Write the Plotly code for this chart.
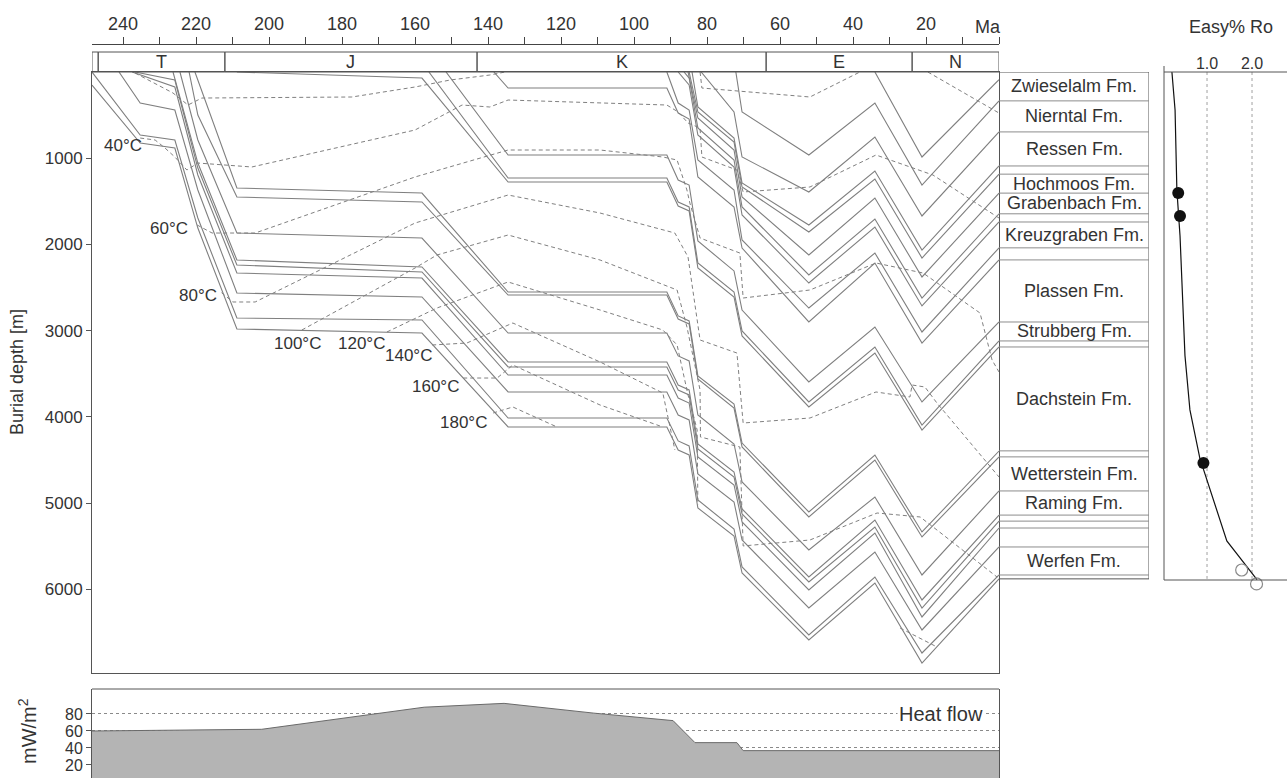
import plotly.graph_objects as go

# ------------------------------------------------------------------ data
PERIOD_BOUNDS = [248.5, 246.8, 212.1, 143.0, 63.8, 23.8, 0.0]
PERIOD_LABELS = ["", "T", "J", "K", "E", "N"]

TOP_TICKS = [240, 220, 200, 180, 160, 140, 120, 100, 80, 60, 40, 20]
TOP_TICK_TEXT = ["240", "220", "200", "180", "160", "140", "120", "100", "80", "60", "40", "20"]
DEPTH_TICKS = [1000, 2000, 3000, 4000, 5000, 6000]

# burial paths of horizons: (age Ma, depth m), deepest first
base = [(248.5, 151), (235.3, 824), (225.8, 882), (219.5, 1810), (208.8, 2981), (158.1, 3028),
        (134.5, 4118), (91.0, 4118), (87.9, 4385), (84.9, 4443), (82.5, 5058), (72.6, 5382),
        (70.4, 5812), (52.1, 6589), (34.0, 5928), (21.1, 6856), (0.0, 5880)]
h20 = [(248.5, 0), (235.3, 731), (225.8, 789), (219.5, 1694), (208.8, 2854), (158.1, 2877),
       (134.5, 4014), (91.0, 4014), (87.9, 4280), (84.9, 4338), (82.5, 4965), (72.6, 5301),
       (70.4, 5742), (52.1, 6531), (34.0, 5858), (21.1, 6740), (0.0, 5835)]
werfen_top = [(241.1, 0), (235.3, 360), (225.8, 441), (219.5, 1369), (208.8, 2564), (158.1, 2610),
              (134.5, 3712), (91.0, 3712), (87.9, 3979), (84.9, 4037), (82.5, 4663), (72.6, 4988),
              (70.4, 5429), (52.1, 6218), (34.0, 5568), (21.1, 6473), (0.0, 5510)]
h18 = [(237.5, 0), (225.8, 174), (219.5, 1195), (208.8, 2332), (158.1, 2390), (134.5, 3515),
       (91.0, 3515), (87.9, 3782), (84.9, 3840), (82.5, 4466), (72.6, 4791), (70.4, 5220),
       (52.1, 6009), (34.0, 5348), (21.1, 6322), (0.0, 5290)]
h17 = [(236.7, 0), (225.8, 93), (219.5, 1114), (208.8, 2239), (158.1, 2320), (134.5, 3422),
       (91.0, 3422), (87.9, 3689), (84.9, 3747), (82.5, 4373), (72.6, 4698), (70.4, 5127),
       (52.1, 5916), (34.0, 5278), (21.1, 6218), (0.0, 5210)]
h16 = [(226.3, 0), (219.5, 1056), (208.8, 2181), (158.1, 2262), (134.5, 3364), (91.0, 3364),
       (87.9, 3631), (84.9, 3689), (82.5, 4315), (72.6, 4640), (70.4, 5069), (52.1, 5858),
       (34.0, 5197), (21.1, 6125), (0.0, 5140)]
raming_top = [(224.4, 0), (219.5, 789), (208.8, 1868), (158.1, 1926), (134.5, 3028), (91.0, 3028),
              (87.9, 3294), (84.9, 3352), (82.5, 3979), (72.6, 4315), (70.4, 4756), (52.1, 5545),
              (34.0, 4930), (21.1, 5835), (0.0, 4860)]
wetterstein_top = [(221.9, 0), (219.5, 499), (208.8, 1450), (158.1, 1508), (134.5, 2587), (91.0, 2587),
                   (87.9, 2865), (84.9, 2923), (82.5, 3561), (72.6, 3898), (70.4, 4350), (52.1, 5162),
                   (34.0, 4501), (21.1, 5394), (0.0, 4466)]
h13 = [(220.3, 0), (219.5, 93), (208.8, 1346), (158.1, 1404), (134.5, 2552), (91.0, 2552),
       (87.9, 2830), (84.9, 2888), (82.5, 3526), (72.6, 3851), (70.4, 4304), (52.1, 5104),
       (34.0, 4443), (21.1, 5336), (0.0, 4397)]
dachstein_top = [(208.8, 0), (158.1, 70), (134.5, 1276), (91.0, 1276), (87.9, 1554), (84.9, 1612),
                 (82.5, 2274), (72.6, 2610), (70.4, 3062), (52.1, 3886), (34.0, 3260), (21.1, 4153),
                 (0.0, 3190)]
h11 = [(156.2, 0), (134.5, 1230), (91.0, 1230), (87.9, 1508), (84.9, 1566), (82.5, 2216),
       (72.6, 2552), (70.4, 3004), (52.1, 3828), (34.0, 3190), (21.1, 4095), (0.0, 3120)]
strubberg_top = [(151.5, 0), (134.5, 963), (91.0, 963), (87.9, 1253), (84.9, 1311), (82.5, 1960),
                 (72.6, 2308), (70.4, 2761), (52.1, 3596), (34.0, 2958), (21.1, 3828), (0.0, 2900)]
plassen_top = [(138.4, 0), (134.5, 186), (91.0, 186), (87.9, 476), (84.9, 545), (82.5, 1218),
               (72.6, 1566), (70.4, 2042), (52.1, 2900), (34.0, 2216), (21.1, 3144), (0.0, 2180)]
h8 = [(91.0, 0), (87.9, 360), (84.9, 441), (82.5, 1021), (72.6, 1369), (70.4, 1949),
      (52.1, 2738), (34.0, 2100), (21.1, 3016), (0.0, 2040)]
kreuzgraben_top = [(87.9, 0), (84.9, 151), (82.5, 731), (72.6, 1102), (70.4, 1659), (52.1, 2448),
                   (34.0, 1798), (21.1, 2714), (0.0, 1740)]
h6 = [(86.3, 0), (84.9, 70), (82.5, 650), (72.6, 1021), (70.4, 1566), (52.1, 2355),
      (34.0, 1705), (21.1, 2622), (0.0, 1645)]
grabenbach_top = [(85.2, 0), (82.5, 534), (72.6, 905), (70.4, 1450), (52.1, 2123), (34.0, 1462),
                  (21.1, 2378), (0.0, 1405)]
hochmoos_top = [(84.9, 0), (82.5, 464), (72.6, 812), (70.4, 1334), (52.1, 1856), (34.0, 1241),
                (21.1, 2158), (0.0, 1185)]
h3 = [(84.1, 0), (82.5, 406), (72.6, 766), (70.4, 1288), (52.1, 1775), (34.0, 1148),
      (21.1, 2065), (0.0, 1090)]
ressen_top = [(81.6, 0), (72.6, 464), (70.4, 986), (52.1, 1392), (34.0, 754), (21.1, 1670), (0.0, 695)]
nierntal_top = [(72.1, 0), (70.4, 464), (52.1, 963), (34.0, 360), (21.1, 1311), (0.0, 335)]
zwieselalm_top = [(34.0, 0), (21.1, 986), (0.0, 90)]

HORIZONS = [base, h20, werfen_top, h18, h17, h16, raming_top, wetterstein_top, h13,
            dachstein_top, h11, strubberg_top, plassen_top, h8, kreuzgraben_top, h6,
            grabenbach_top, hochmoos_top, h3, ressen_top, nierntal_top, zwieselalm_top]

# isotherms (age Ma, depth m)
iso_20a = [(236.7, 12), (226.3, 244), (222.2, 383), (218.4, 302), (177.3, 290), (160.0, 174),
           (150.4, 93), (139.5, 35), (135.3, 0)]
iso_20b = [(81.9, 0), (81.4, 186), (51.8, 290), (38.1, 0)]
iso_20c = [(19.5, 0), (0.0, 476)]
iso_40 = [(235.3, 766), (231.2, 789), (228.5, 882), (225.8, 986), (222.5, 1137), (219.5, 1056),
          (204.7, 1102), (160.0, 673), (147.1, 383), (139.5, 406), (134.5, 325), (109.3, 360),
          (91.0, 383), (87.9, 464), (85.2, 592), (81.9, 650), (81.4, 986), (71.8, 1137),
          (70.1, 1392), (51.8, 1334), (33.7, 963), (18.1, 1195), (0.0, 1694)]
iso_60 = [(219.7, 1775), (215.6, 1868), (203.8, 1868), (160.0, 1218), (134.5, 905), (109.3, 905),
          (92.1, 986), (88.2, 1021), (85.5, 1369), (84.7, 1520), (81.9, 1926), (71.0, 2100),
          (70.1, 2622), (51.8, 2529), (33.7, 2216), (20.8, 2332), (5.2, 2796), (1.9, 3341), (0.0, 3480)]
iso_80 = [(213.0, 2560), (209.9, 2668), (203.8, 2668), (160.0, 1752), (134.5, 1427), (109.3, 1636),
          (88.8, 1868), (85.2, 2146), (81.9, 3109), (71.8, 3260), (70.1, 4072), (51.8, 4014),
          (33.7, 3712), (24.4, 3770), (23.8, 3631), (20.3, 3654), (17.0, 3840), (0.0, 4698)]
iso_100 = [(191.0, 2993), (160.0, 2274), (154.0, 2123), (134.5, 1891), (109.3, 2181), (88.2, 2529),
           (85.5, 2958), (81.9, 3689), (81.8, 4234), (71.0, 4350), (70.1, 5498), (51.8, 5429),
           (33.4, 5116), (21.6, 5162), (17.0, 5313), (0.5, 5860)]
iso_120a = [(167.7, 3016), (154.0, 2738), (134.5, 2436), (109.3, 2761), (92.1, 2993), (88.2, 3167),
            (85.2, 3747), (82.7, 4153), (82.5, 5023)]
iso_120b = [(27.1, 6450), (17.0, 6670)]
iso_140 = [(155.3, 3167), (145.8, 3144), (133.2, 2912), (109.3, 3364), (92.1, 3724), (88.8, 4385)]
iso_160 = [(146.8, 3550), (137.5, 3550), (133.2, 3399), (109.3, 3863), (92.9, 4106)]
iso_180 = [(138.6, 3956), (133.2, 3886), (121.1, 4118)]
ISOTHERMS = [iso_20a, iso_20b, iso_20c, iso_40, iso_60, iso_80, iso_100, iso_120a, iso_120b,
             iso_140, iso_160, iso_180]

ISO_LABELS = ["40°C", "60°C", "80°C", "100°C", "120°C", "140°C", "160°C", "180°C"]
ISO_LABEL_AGE = [240.0, 227.4, 219.5, 192.3, 174.7, 161.9, 154.5, 146.8]
ISO_LABEL_DEPTH = [847, 1810, 2587, 3144, 3144, 3294, 3654, 4071]

# formation column (present-day depths, m)
COLUMN_BOUNDS = [0, 335, 695, 1090, 1185, 1405, 1645, 1740, 2040, 2180, 2900, 3120, 3190,
                 4395, 4465, 4860, 5140, 5210, 5290, 5510, 5835, 5880]
FM_NAMES = ["Zwieselalm Fm.", "Nierntal Fm.", "Ressen Fm.", "Hochmoos Fm.", "Grabenbach Fm.",
            "Kreuzgraben Fm.", "Plassen Fm.", "Strubberg Fm.", "Dachstein Fm.", "Wetterstein Fm.",
            "Raming Fm.", "Werfen Fm."]
FM_TOP = [0, 335, 695, 1185, 1405, 1740, 2180, 2900, 3190, 4465, 4860, 5510]
FM_BASE = [335, 695, 1090, 1405, 1645, 2040, 2900, 3120, 4395, 4860, 5140, 5835]

# vitrinite reflectance
RO_CURVE = [0.22, 0.29, 0.33, 0.40, 0.51, 0.62, 0.84, 1.44, 2.11]
RO_CURVE_DEPTH = [0, 440, 1370, 1900, 3290, 3920, 4480, 5440, 5890]
RO_MEAS = [0.36, 0.40, 0.92]
RO_MEAS_DEPTH = [1404, 1670, 4536]
RO_OPEN = [1.77, 2.10]
RO_OPEN_DEPTH = [5777, 5939]

# heat flow history
HF_AGE = [248.5, 202.0, 157.5, 135.6, 111.0, 89.3, 83.3, 71.8, 70.1, 0.0]
HF_VAL = [60.0, 62.0, 88.0, 92.5, 81.0, 72.2, 46.3, 46.3, 36.9, 36.9]

# ------------------------------------------------------------------ layout helpers
W, H = 1287, 778


def px(x):
    return x / W


def py(y):
    return 1 - y / H


FONT = "Liberation Sans, Arial, sans-serif"
TXT = "#333333"
LINE = "#7f7f7f"
FRAME = "#555555"
XR = [248.5, 0]

fig = go.Figure()

for hz in HORIZONS:
    fig.add_trace(go.Scatter(x=[a for a, d in hz], y=[d for a, d in hz], mode="lines",
                             line=dict(color=LINE, width=1.1), hoverinfo="skip",
                             showlegend=False, xaxis="x", yaxis="y"))
for iso in ISOTHERMS:
    fig.add_trace(go.Scatter(x=[a for a, d in iso], y=[d for a, d in iso], mode="lines",
                             line=dict(color="#808080", width=1, dash="4px,3px"),
                             hoverinfo="skip", showlegend=False, xaxis="x", yaxis="y"))

# invisible helpers so the extra axes render
fig.add_trace(go.Scatter(x=XR, y=[0, 0], mode="markers", marker=dict(opacity=0),
                         hoverinfo="skip", showlegend=False, xaxis="x2", yaxis="y"))
fig.add_trace(go.Scatter(x=[0, 1], y=[0, 0], mode="markers", marker=dict(opacity=0),
                         hoverinfo="skip", showlegend=False, xaxis="x3", yaxis="y"))

# Ro panel
fig.add_trace(go.Scatter(x=RO_CURVE, y=RO_CURVE_DEPTH, mode="lines",
                         line=dict(color="#111111", width=1.2), hoverinfo="skip",
                         showlegend=False, xaxis="x4", yaxis="y", cliponaxis=False))
fig.add_trace(go.Scatter(x=RO_MEAS, y=RO_MEAS_DEPTH, mode="markers",
                         marker=dict(color="#111111", size=12, symbol="circle"),
                         hoverinfo="skip", showlegend=False, xaxis="x4", yaxis="y"))
fig.add_trace(go.Scatter(x=RO_OPEN, y=RO_OPEN_DEPTH, mode="markers",
                         marker=dict(color="rgba(0,0,0,0)", size=12, symbol="circle",
                                     line=dict(color="#8a8a8a", width=1.2)),
                         hoverinfo="skip", showlegend=False, xaxis="x4", yaxis="y",
                         cliponaxis=False))

# heat flow
fig.add_trace(go.Scatter(x=HF_AGE, y=HF_VAL, mode="lines", fill="tozeroy",
                         fillcolor="#b4b4b4", line=dict(color="#6a6a6a", width=1),
                         hoverinfo="skip", showlegend=False, xaxis="x5", yaxis="y5"))

shapes = []
annotations = []

# period band
for i in range(len(PERIOD_BOUNDS) - 1):
    shapes.append(dict(type="rect", xref="x", yref="paper", x0=PERIOD_BOUNDS[i],
                       x1=PERIOD_BOUNDS[i + 1], y0=py(72), y1=py(52),
                       line=dict(color=FRAME, width=1)))
    if PERIOD_LABELS[i]:
        annotations.append(dict(x=(PERIOD_BOUNDS[i] + PERIOD_BOUNDS[i + 1]) / 2, y=py(62),
                                xref="x", yref="paper", text=PERIOD_LABELS[i], showarrow=False,
                                font=dict(size=18, color=TXT), xanchor="center", yanchor="middle"))

annotations.append(dict(x=px(988), y=py(27), xref="paper", yref="paper", text="Ma",
                        showarrow=False, font=dict(size=18, color=TXT),
                        xanchor="center", yanchor="middle"))

# isotherm labels
for lab, a, d in zip(ISO_LABELS, ISO_LABEL_AGE, ISO_LABEL_DEPTH):
    annotations.append(dict(x=a, y=d, xref="x", yref="y", text=lab, showarrow=False,
                            font=dict(size=17, color=TXT), xanchor="center", yanchor="middle"))

# formation column
shapes.append(dict(type="rect", xref="x3", yref="y", x0=0, x1=1, y0=COLUMN_BOUNDS[0],
                   y1=COLUMN_BOUNDS[-1], line=dict(color=FRAME, width=1)))
for b in COLUMN_BOUNDS[1:-1]:
    shapes.append(dict(type="line", xref="x3", yref="y", x0=0, x1=1, y0=b, y1=b,
                       line=dict(color="#8c8c8c", width=1)))
for name, t, b in zip(FM_NAMES, FM_TOP, FM_BASE):
    annotations.append(dict(x=0.5, y=(t + b) / 2, xref="x3", yref="y", text=name,
                            showarrow=False, font=dict(size=18, color=TXT),
                            xanchor="center", yanchor="middle"))

# Ro panel frame
shapes.append(dict(type="line", xref="paper", yref="paper", x0=px(1164), x1=px(1164),
                   y0=py(66), y1=py(580), line=dict(color=FRAME, width=1)))
shapes.append(dict(type="line", xref="paper", yref="paper", x0=px(1164), x1=1,
                   y0=py(72), y1=py(72), line=dict(color=FRAME, width=1)))
shapes.append(dict(type="line", xref="paper", yref="paper", x0=px(1164), x1=1,
                   y0=py(580), y1=py(580), line=dict(color=FRAME, width=1)))
for v in [1.0, 2.0]:
    shapes.append(dict(type="line", xref="x4", yref="y", x0=v, x1=v, y0=0, y1=5880,
                       line=dict(color="#a0a0a0", width=1, dash="dot"), layer="below"))
annotations.append(dict(x=px(1231), y=py(27), xref="paper", yref="paper", text="Easy% Ro",
                        showarrow=False, font=dict(size=18, color=TXT),
                        xanchor="center", yanchor="middle"))

# heat-flow panel top line and label
shapes.append(dict(type="line", xref="paper", yref="paper", x0=px(92), x1=px(999),
                   y0=py(689), y1=py(689), line=dict(color=FRAME, width=1)))
annotations.append(dict(x=16.0, y=80, xref="x5", yref="y5", text="Heat flow", showarrow=False,
                        font=dict(size=20, color=TXT), bgcolor="white",
                        xanchor="center", yanchor="middle"))

# axis titles
annotations.append(dict(x=px(17), y=py(372), xref="paper", yref="paper", text="Burial depth [m]",
                        showarrow=False, textangle=-90, font=dict(size=18, color=TXT),
                        xanchor="center", yanchor="middle"))
annotations.append(dict(x=px(27), y=py(731), xref="paper", yref="paper", text="mW/m<sup>2</sup>",
                        showarrow=False, textangle=-90, font=dict(size=20, color=TXT),
                        xanchor="center", yanchor="middle"))

fig.update_layout(
    width=W, height=H, margin=dict(l=0, r=0, t=0, b=0),
    paper_bgcolor="white", plot_bgcolor="white",
    font=dict(family=FONT, color=TXT, size=16),
    showlegend=False,
    xaxis=dict(domain=[px(92), px(999)], range=XR, showline=True, mirror=True,
               linecolor=FRAME, linewidth=1, ticks="", showticklabels=False,
               showgrid=False, zeroline=False, anchor="y"),
    yaxis=dict(domain=[py(673), py(72)], range=[6972, 0], showline=True, mirror=True,
               linecolor=FRAME, linewidth=1, ticks="outside", ticklen=5, tickcolor=FRAME,
               tickvals=DEPTH_TICKS, tickfont=dict(size=17, color=TXT),
               showgrid=False, zeroline=False, anchor="x"),
    xaxis2=dict(overlaying="x", anchor="free", position=py(44), side="top", range=XR,
                tickvals=TOP_TICKS, ticktext=TOP_TICK_TEXT, ticks="outside", ticklen=7,
                tickcolor="#444444", showline=True, linecolor="#444444", linewidth=1,
                minor=dict(dtick=10, tick0=0, ticks="outside", ticklen=7, tickcolor="#444444"),
                tickfont=dict(size=18, color=TXT), showgrid=False, zeroline=False),
    xaxis3=dict(domain=[px(999), px(1149)], range=[0, 1], anchor="y", visible=False),
    xaxis4=dict(domain=[px(1164), 1], range=[0.044, 2.777], anchor="free", position=py(72),
                side="top", tickvals=[1, 2], ticktext=["1.0", "2.0"], ticks="",
                showline=False, showgrid=False, zeroline=False,
                tickfont=dict(size=16, color=TXT)),
    xaxis5=dict(domain=[px(92), px(999)], range=XR, anchor="y5", showline=False, ticks="",
                showticklabels=False, showgrid=False, zeroline=False),
    yaxis5=dict(domain=[0, py(689)], range=[4.7, 109.4], anchor="x5", showline=True,
                mirror=True, linecolor=FRAME, linewidth=1, ticks="outside", ticklen=5,
                tickcolor=FRAME, tickvals=[20, 40, 60, 80], showgrid=True,
                gridcolor="#8a8a8a", griddash="dot", gridwidth=1, zeroline=False,
                tickfont=dict(size=16, color=TXT)),
    shapes=shapes,
    annotations=annotations,
)

fig.write_html("out.html", config={"displayModeBar": False},
               post_script="document.body.style.margin='0px';document.body.style.overflow='hidden';")
